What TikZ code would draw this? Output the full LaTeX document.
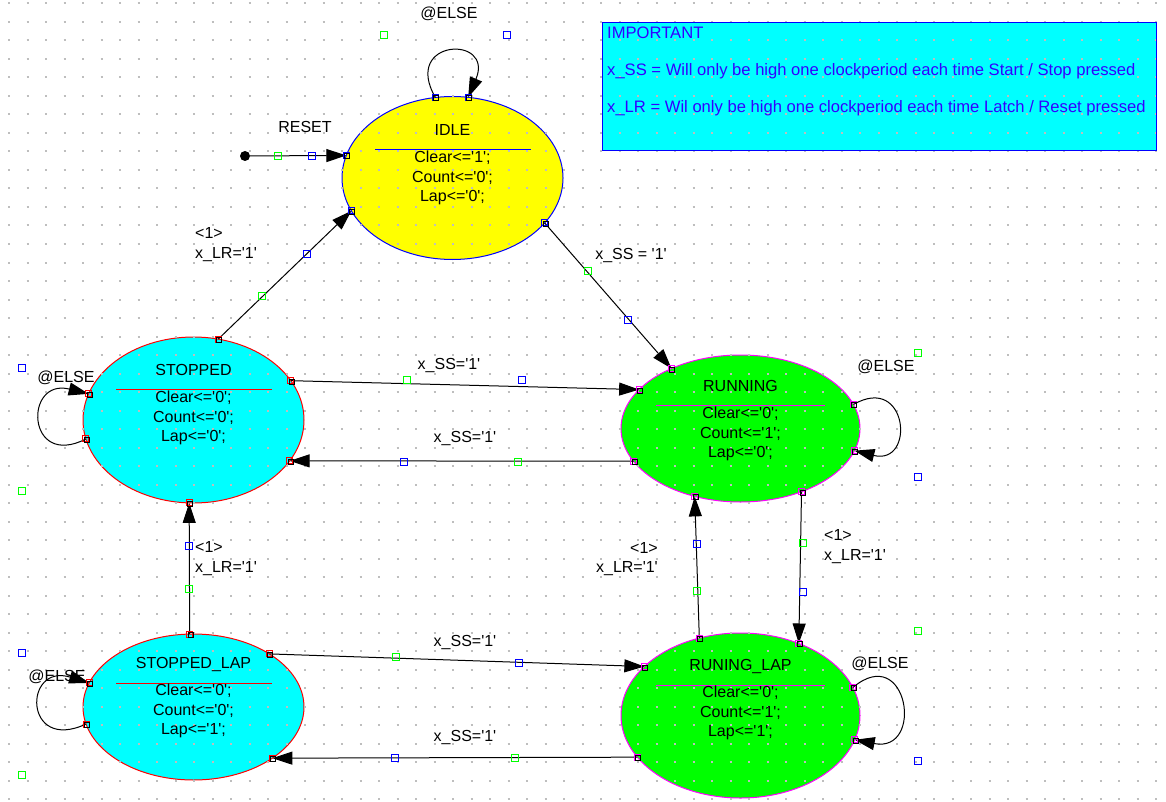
\documentclass[tikz,border=0pt]{standalone}
\usepackage{fontspec}
\setmainfont{Liberation Sans}[Ligatures=TeXOff]
\usetikzlibrary{arrows.meta,shapes.geometric}
\definecolor{vgreen}{RGB}{0,255,0}
\definecolor{vcyan}{RGB}{0,255,255}
\definecolor{vyellow}{RGB}{255,255,0}
\definecolor{vblue}{RGB}{0,0,255}
\definecolor{vmag}{RGB}{255,0,255}
\definecolor{vred}{RGB}{255,0,0}
\definecolor{notetext}{RGB}{51,0,255}
\definecolor{griddot}{RGB}{190,190,190}
\tikzset{
  stnode/.style={ellipse, inner sep=0pt, outer sep=0pt, line width=1pt},
  txt/.style={font=\fontsize{16}{19.3}\selectfont, inner sep=0pt},
  notetxt/.style={font=\fontsize{16.6}{19.3}\selectfont, inner sep=0pt, notetext, anchor=west},
  trans/.style={line width=1pt, -{Triangle[length=20pt,width=13pt]}},
  handle/.style={draw, rectangle, minimum size=7pt, inner sep=0pt, line width=1pt},
  endbox/.style={draw, rectangle, minimum size=6pt, inner sep=0pt, line width=1pt}
}
\begin{document}
\begin{tikzpicture}[x=1pt, y=-1pt]
  \fill[white] (0,0) rectangle (1166,802);
  \useasboundingbox (0,0) rectangle (1166,802);
  \node[fill=vcyan, minimum width=554pt, minimum height=128pt, inner sep=0pt, outer sep=0pt, anchor=north west] (note) at (602,23) {};
  \node[stnode, fill=vyellow, draw=vblue, minimum width=221pt, minimum height=163pt] (idle) at (452.5,178) {};
  \node[stnode, fill=vcyan, draw=vred, minimum width=221pt, minimum height=166pt] (stopped) at (193.5,420) {};
  \node[stnode, fill=vgreen, draw=vmag, minimum width=239pt, minimum height=147pt] (running) at (740.5,428.5) {};
  \node[stnode, fill=vgreen, draw=vmag, minimum width=239pt, minimum height=165pt] (runlap) at (740.5,715.5) {};
  \node[stnode, fill=vcyan, draw=vred, minimum width=221pt, minimum height=146pt] (stoplap) at (193.5,707) {};
  \foreach \j in {0,...,43}
    \draw[griddot, line width=2pt, dash pattern=on 2pt off 16.5pt] ({8.2},{3.5+18.5*\j}) -- ({1166},{3.5+18.5*\j});
  \draw[vblue, line width=1pt] (note.south west) rectangle (note.north east);
  \node[notetxt] (notehead) at (607,33) {IMPORTANT};
  \node[notetxt] (notess) at (607,71) {x\_SS = Will only be high one clockperiod each time Start / Stop pressed};
  \node[notetxt] (notelr) at (607,108) {x\_LR = Wil only be high one clockperiod each time Latch / Reset pressed};
  \draw[vblue, line width=1pt] (375,150) -- (531,150);
  \draw[vred, line width=1pt] (116,389) -- (272,389);
  \draw[vmag, line width=1pt] (656,405) -- (825,405);
  \draw[vmag, line width=1pt] (656,685) -- (825,685);
  \draw[vred, line width=1pt] (116,683) -- (272,683);
  \node[txt] (idletitle) at (452.5,130) {IDLE};
  \node[txt, align=center] (idlebody) at (452.5,178) {Clear<='1';\\Count<='0';\\Lap<='0';};
  \node[txt] (stoppedtitle) at (193.5,370) {STOPPED};
  \node[txt, align=center] (stoppedbody) at (193.5,418) {Clear<='0';\\Count<='0';\\Lap<='0';};
  \node[txt] (runningtitle) at (740.5,386) {RUNNING};
  \node[txt, align=center] (runningbody) at (740.5,434) {Clear<='0';\\Count<='1';\\Lap<='0';};
  \node[txt] (runlaptitle) at (740.5,666) {RUNING\_LAP};
  \node[txt, align=center] (runlapbody) at (740.5,713) {Clear<='0';\\Count<='1';\\Lap<='1';};
  \node[txt] (stoplaptitle) at (193.5,664) {STOPPED\_LAP};
  \node[txt, align=center] (stoplapbody) at (193.5,711) {Clear<='0';\\Count<='0';\\Lap<='1';};
  \node[circle, fill=black, minimum size=10pt, inner sep=0pt] (resetdot) at (245,156) {};
  \draw[trans] (resetdot) -- (idle.168);
  \draw[trans] (idle.102) to[out=120, in=67, looseness=5.3] (idle.79);
  \draw[trans] (idle.334) -- (running.139);
  \draw[trans] (stopped.73) -- (idle.198);
  \draw[trans] (stopped.22) -- (running.159);
  \draw[trans] (running.197) -- (stopped.337);
  \draw[trans] (stopped.190) to[out=207, in=166, looseness=3.8] (stopped.166);
  \draw[trans] (stoplap.93) -- (stopped.267);
  \draw[trans] (running.12) to[out=30, in=-14, looseness=3.5] (running.349);
  \draw[trans] (running.314) -- (runlap.51);
  \draw[trans] (runlap.118) -- (running.236);
  \draw[trans] (stoplap.35) -- (runlap.153);
  \draw[trans] (runlap.202) -- (stoplap.327);
  \draw[trans] (stoplap.189) to[out=205, in=163, looseness=4.3] (stoplap.167);
  \draw[trans] (runlap.14) to[out=40, in=-11, looseness=3.5] (runlap.348);
  \node[txt] (resetlbl) at (305,127) {RESET};
  \node[txt] (idleelse) at (449,14) {@ELSE};
  \node[txt] (idlerun) at (631,256) {x\_SS = '1'};
  \node[txt, align=left, anchor=west] (stopidle) at (195,244.5) {<1>\\x\_LR='1'};
  \node[txt] (stoprun) at (449,366) {x\_SS='1'};
  \node[txt] (runstop) at (465,439) {x\_SS='1'};
  \node[txt] (stopelse) at (66,378) {@ELSE};
  \node[txt, align=left, anchor=west] (lapstop) at (195,558.5) {<1>\\x\_LR='1'};
  \node[txt] (runelse) at (886,367) {@ELSE};
  \node[txt, align=left, anchor=west] (runlapl) at (824,546.5) {<1>\\x\_LR='1'};
  \node[txt, align=right, anchor=east] (laprun) at (658,559) {<1>\\x\_LR='1'};
  \node[txt] (stoplaprun) at (465,642) {x\_SS='1'};
  \node[txt] (runlapstop) at (465,737) {x\_SS='1'};
  \node[txt] (stoplapelse) at (57,677) {@ELSE};
  \node[txt] (runlapelse) at (880,664) {@ELSE};
  \foreach \p in {{278,156},{384,35},{588,271},{262,296},{407,380},{518,462},{22,491},{189,589},{918,353},{803,543},{697,591},{396,657},{515,758},{22,775},{918,631}}
    \node[handle, draw=vgreen] at (\p) {};
  \foreach \p in {{312,156},{507,35},{628,320},{307,254},{522,380},{404,462},{22,368},{189,546},{918,477},{803,592},{697,544},{519,663},{395,758},{22,653},{918,761}}
    \node[handle, draw=vblue] at (\p) {};
  \foreach \p in {idle.168,idle.102,idle.79,idle.334,idle.198}
    \node[endbox, draw=vblue] at (\p) {};
  \foreach \p in {stopped.73,stopped.22,stopped.337,stopped.190,stopped.166,stopped.267,stoplap.93,stoplap.35,stoplap.327,stoplap.189,stoplap.167}
    \node[endbox, draw=vred] at (\p) {};
  \foreach \p in {running.139,running.159,running.197,running.12,running.349,running.314,running.236,runlap.51,runlap.118,runlap.153,runlap.202,runlap.14,runlap.348}
    \node[endbox, draw=vmag] at (\p) {};
  \foreach \p in {idle.168,idle.102,idle.79,idle.334,idle.198,stopped.73,stopped.22,stopped.337,stopped.190,stopped.166,stopped.267,stoplap.93,stoplap.35,stoplap.327,stoplap.189,stoplap.167,running.139,running.159,running.197,running.12,running.349,running.314,running.236,runlap.51,runlap.118,runlap.153,runlap.202,runlap.14,runlap.348}
    \node[endbox, draw=black, minimum size=5pt] at ([shift={(1pt,-1pt)}]\p) {};
\end{tikzpicture}
\end{document}
